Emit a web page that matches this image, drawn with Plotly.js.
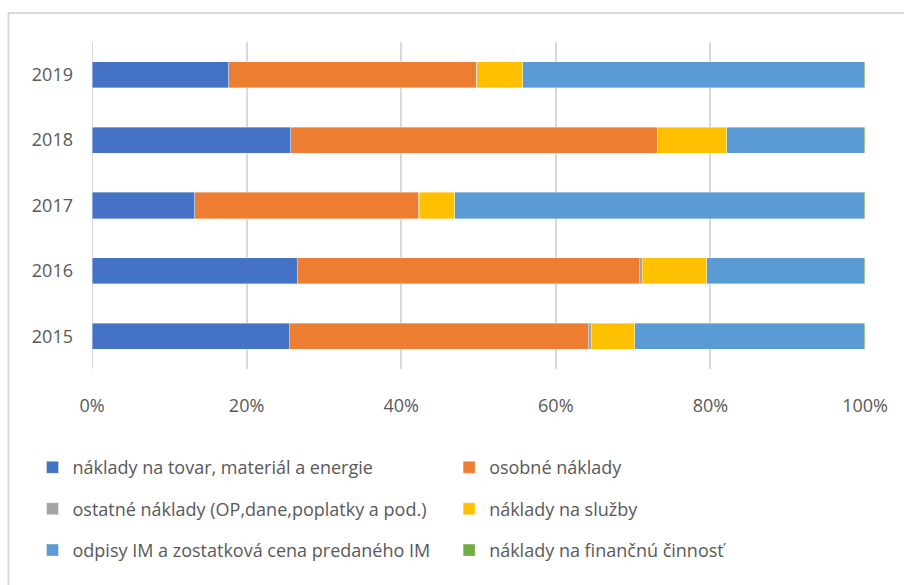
<!DOCTYPE html>
<html>
<head>
<meta charset="utf-8">
<script src="https://cdn.plot.ly/plotly-3.0.1.min.js"></script>
<style>html,body{margin:0;padding:0;background:#fff;}#chart{width:904px;height:585px;}</style>
</head>
<body>
<div id="chart"></div>
<script>
const years = ["2015", "2016", "2017", "2018", "2019"];
const seriesNames = [
  "náklady na tovar, materiál a energie",
  "osobné náklady",
  "ostatné náklady (OP,dane,poplatky a pod.)",
  "náklady na služby",
  "odpisy IM a zostatková cena predaného IM",
  "náklady na finančnú činnosť"
];
const tovar    = [25.5, 26.6, 13.3, 25.7, 17.7];
const osobne   = [38.7, 44.2, 29.0, 47.4, 32.0];
const ostatne  = [0.4, 0.4, 0.1, 0.1, 0.1];
const sluzby   = [5.6, 8.3, 4.5, 8.9, 5.9];
const odpisy   = [29.7, 20.4, 53.0, 17.8, 44.2];
const financne = [0.1, 0.1, 0.1, 0.1, 0.1];
const xTicks = [0, 20, 40, 60, 80, 100];
const xTickText = ["0%", "20%", "40%", "60%", "80%", "100%"];

const colors = ["#4472C4", "#ED7D31", "#A5A5A5", "#FFC000", "#5B9BD5", "#70AD47"];
const values = [tovar, osobne, ostatne, sluzby, odpisy, financne];
const legendFor = ["legend", "legend2", "legend", "legend2", "legend", "legend2"];

const traces = values.map((v, i) => ({
  type: "bar",
  orientation: "h",
  name: seriesNames[i],
  y: years,
  x: v,
  marker: {color: colors[i], line: {width: 0.6, color: "rgba(255,255,255,0.6)"}},
  legend: legendFor[i],
  legendgroup: "g" + i,
  hoverinfo: "x+name"
}));

const font = {family: "Open Sans, Noto Sans, sans-serif", color: "#595959"};

const layout = {
  width: 904, height: 585,
  margin: {l: 92, r: 39, t: 42, b: 216},
  barmode: "stack",
  barnorm: "percent",
  bargap: 0.6,
  paper_bgcolor: "#ffffff",
  plot_bgcolor: "#ffffff",
  font: Object.assign({size: 18}, font),
  xaxis: {
    range: [0, 100],
    tickvals: xTicks,
    ticktext: xTickText,
    showgrid: true,
    gridcolor: "#d9d9d9",
    gridwidth: 2,
    zeroline: false,
    showline: false,
    ticks: "",
    ticklen: 0,
    ticklabelstandoff: 24,
    tickfont: Object.assign({size: 18}, font),
    fixedrange: true
  },
  yaxis: {
    type: "category",
    categoryorder: "array",
    categoryarray: years,
    showgrid: false,
    zeroline: false,
    showline: false,
    ticks: "",
    ticklabelstandoff: 18,
    tickfont: Object.assign({size: 18}, font),
    fixedrange: true
  },
  showlegend: true,
  legend: {
    orientation: "v",
    x: -0.077, xanchor: "left",
    y: -0.245, yanchor: "top",
    traceorder: "grouped",
    tracegroupgap: 15,
    font: Object.assign({size: 18}, font),
    itemwidth: 30,
    bgcolor: "rgba(0,0,0,0)"
  },
  legend2: {
    orientation: "v",
    x: 0.462, xanchor: "left",
    y: -0.245, yanchor: "top",
    traceorder: "grouped",
    tracegroupgap: 15,
    font: Object.assign({size: 18}, font),
    itemwidth: 30,
    bgcolor: "rgba(0,0,0,0)"
  },
  shapes: [
    {type: "rect", xref: "paper", yref: "paper", layer: "below",
     x0: -0.108, x1: 1.2, y0: -1.0, y1: 1.0885,
     line: {color: "#d9d9d9", width: 2}, fillcolor: "rgba(0,0,0,0)"},
    {type: "line", xref: "x", yref: "paper", layer: "below",
     x0: 0, x1: 0, y0: 0, y1: 1,
     line: {color: "#d9d9d9", width: 2}}
  ]
};

Plotly.newPlot("chart", traces, layout, {displayModeBar: false, staticPlot: true});
</script>
</body>
</html>
